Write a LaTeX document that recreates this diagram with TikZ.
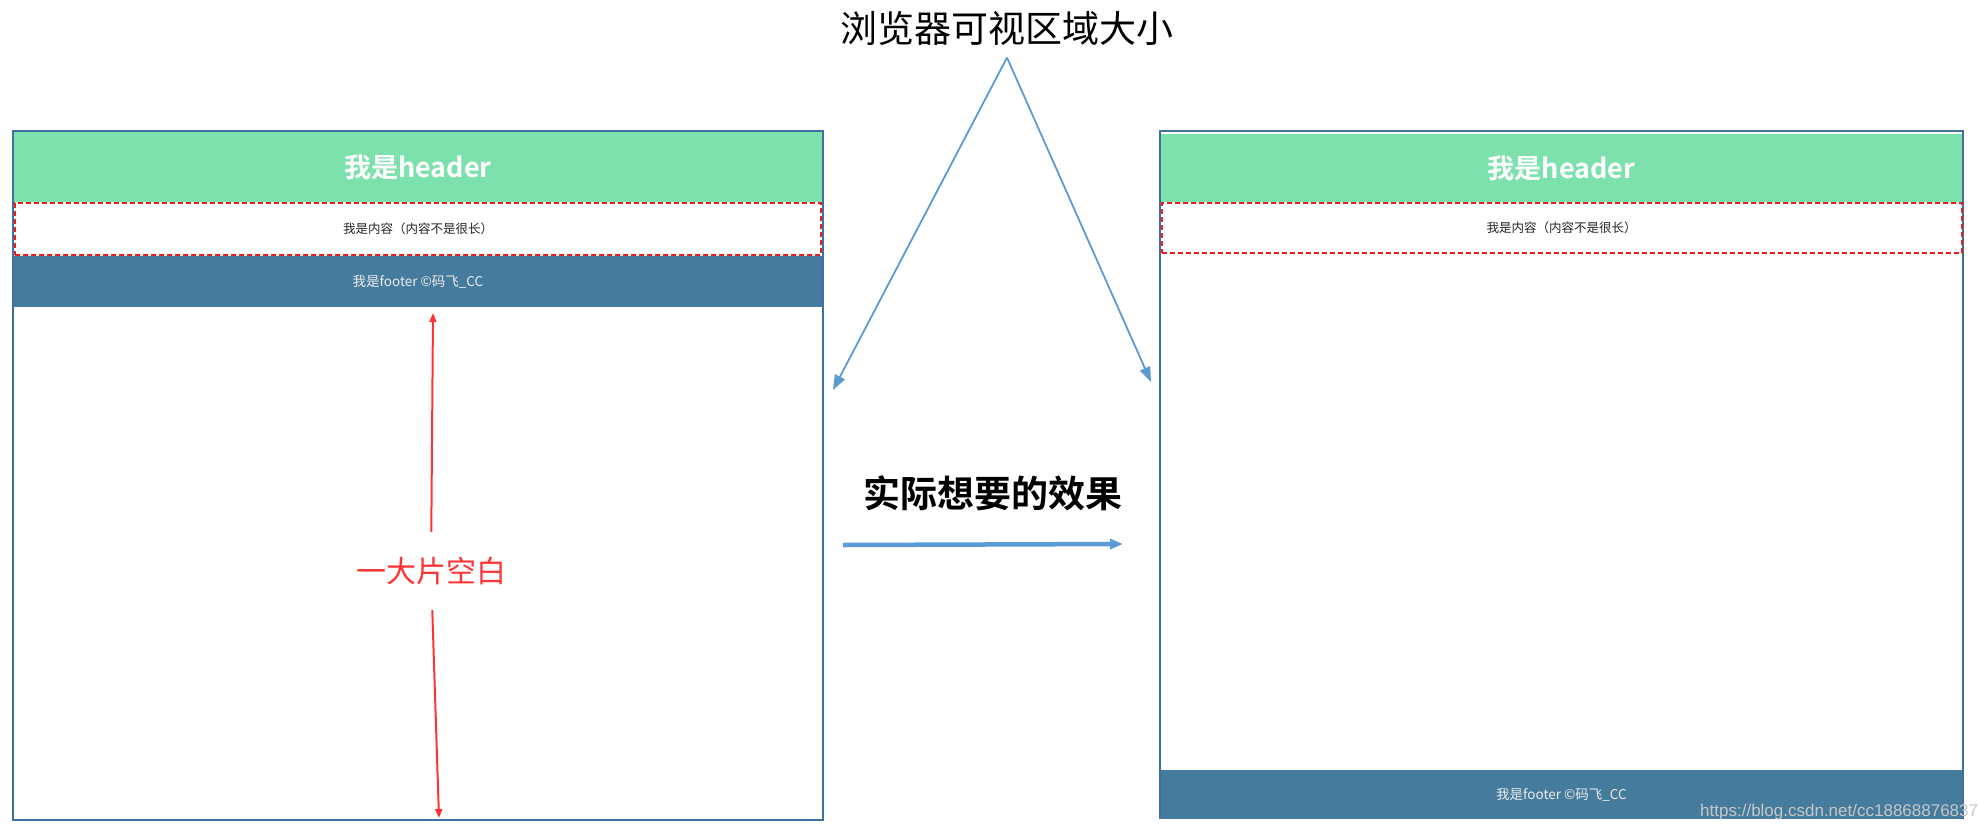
\documentclass[tikz,border=0pt]{standalone}
\usepackage{fontspec}
\setmainfont{Noto Sans CJK SC}[BoldFont={Noto Sans CJK SC Bold}]
\newfontfamily\urlfont{Liberation Sans}
\usetikzlibrary{positioning,arrows.meta}

\definecolor{hdrgreen}{RGB}{125,225,174}
\definecolor{ftrblue}{RGB}{69,123,157}
\definecolor{viewcol}{RGB}{65,112,158}
\definecolor{arrblue}{RGB}{91,155,213}
\definecolor{gapred}{RGB}{255,51,51}
\definecolor{dashred}{RGB}{235,30,30}

\begin{document}
\begin{tikzpicture}[x=1pt,y=-1pt,
  browser/.style={draw=viewcol,line width=2pt,anchor=north west,inner sep=0pt},
  hdr/.style={fill=hdrgreen,text=white,font=\fontsize{27pt}{30pt}\selectfont\bfseries,
    inner sep=0pt,outer sep=0pt,anchor=north west},
  cont/.style={draw=dashred,line width=2pt,dash pattern=on 5pt off 3pt,text=black!85,
    font=\fontsize{12.5pt}{14pt}\selectfont,inner sep=0pt,outer sep=0pt},
  ftr/.style={fill=ftrblue,text=white!93!black,font=\fontsize{13.5pt}{15pt}\selectfont,
    inner sep=0pt,outer sep=0pt},
  viewarr/.style={draw=arrblue,line width=1.8pt,-{Triangle[length=15pt,width=11pt]}},
  goarr/.style={draw=arrblue,line width=4.5pt,-{Triangle[length=13pt,width=10pt]}},
  gaparr/.style={draw=gapred,line width=2pt,-{Triangle[length=9pt,width=7pt]}},
  big/.style={font=\fontsize{37pt}{42pt}\selectfont}]
\useasboundingbox (0,0) rectangle (1978,835);

% left window: footer sticks under the short content
\node[browser,minimum width=810pt,minimum height=689pt] (lview) at (12,130) {};
\node[hdr,minimum width=808pt,minimum height=70pt] (lhdr) at (14,132) {我是header};
\node[cont,minimum width=806pt,minimum height=52pt,below=1pt of lhdr] (lcont) {我是内容（内容不是很长）};
\node[ftr,minimum width=808pt,minimum height=51pt,below=1pt of lcont] (lftr) {我是footer ©码飞\_CC};

% right window: footer pinned to the bottom
\node[browser,minimum width=803pt,minimum height=687pt] (rview) at (1159,130) {};
\node[hdr,minimum width=801pt,minimum height=68pt] (rhdr) at (1161,134) {我是header};
\node[cont,minimum width=800pt,minimum height=50pt,below=1pt of rhdr] (rcont) {我是内容（内容不是很长）};
\node[ftr,minimum width=801pt,minimum height=49pt,above=0pt of rview.south] (rftr) {我是footer ©码飞\_CC};

% labels
\node[big] (title) at (1007,28) {浏览器可视区域大小};
\node[big,font=\fontsize{37pt}{42pt}\selectfont\bfseries] (want) at (993,493) {实际想要的效果};
\node[text=gapred,font=\fontsize{30pt}{34pt}\selectfont,inner xsep=0pt,inner ysep=25pt] (gap) at (431,571) {一大片空白};
\node[anchor=west,text=black!22,font=\urlfont\fontsize{17pt}{19pt}\selectfont,inner sep=0pt] (mark) at (1700,812) {https://blog.csdn.net/cc18868876837};

% arrows
\coordinate[below=9pt of title] (apex);
\coordinate (ltip) at (833,390);
\coordinate (rtip) at (1151,382);
\draw[viewarr] (apex) -- (ltip);
\draw[viewarr] (apex) -- (rtip);
\coordinate (goL) at (843,545);
\coordinate (goR) at (1123,544);
\draw[goarr] (goL) -- (goR);
\coordinate (upend) at (433,313);
\coordinate (downend) at (439,818);
\draw[gaparr] (gap) -- (upend);
\draw[gaparr] (gap) -- (downend);
\end{tikzpicture}
\end{document}
